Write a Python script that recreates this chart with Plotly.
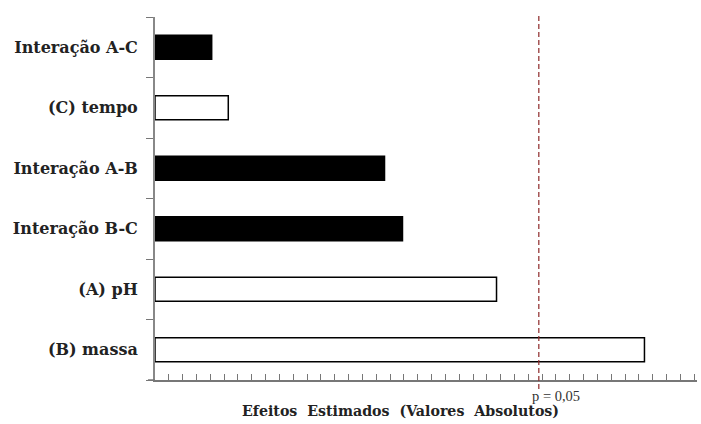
import plotly.graph_objects as go

# Pareto chart of estimated effects (absolute values), bottom to top
efeitos = ["(B) massa", "(A) pH", "Interação B-C", "Interação A-B", "(C) tempo", "Interação A-C"]
valores = [3.54, 2.47, 1.79, 1.66, 0.53, 0.41]
interacao = [False, False, True, True, False, True]
limite_p = 2.776  # critical value for p = 0,05

cores = ["black" if i else "white" for i in interacao]

fig = go.Figure()
fig.add_trace(go.Bar(
    x=valores, y=efeitos, orientation="h",
    marker=dict(color=cores, line=dict(color="black", width=1.5)),
    width=0.4, showlegend=False, hoverinfo="x+y",
))

# Significance threshold
fig.add_shape(type="line", xref="x", yref="paper",
              x0=limite_p, x1=limite_p, y0=-0.025, y1=1.005,
              line=dict(color="#8e2a2a", width=1.2, dash="5px,3px"))
fig.add_annotation(x=limite_p, xref="x", y=-0.045, yref="paper",
                   text="p = 0,05", showarrow=False, xanchor="left", yanchor="middle",
                   xshift=-9, font=dict(family="Liberation Serif", size=14.5, color="#333"))

# Short extension of the baseline to the left of the vertical axis
fig.add_shape(type="line", xref="paper", yref="paper",
              x0=-0.013, x1=0, y0=0, y1=0,
              line=dict(color="#777", width=1.5))

# Axis title
fig.add_annotation(x=(400 - 155) / 542, xref="paper", y=-0.085, yref="paper",
                   text="<b>Efeitos  Estimados  (Valores  Absolutos)</b>",
                   showarrow=False, xanchor="center", yanchor="middle",
                   font=dict(family="DejaVu Serif", size=14.2, color="#222"))

fig.update_layout(
    width=701, height=424,
    margin=dict(l=155, r=4, t=17, b=44),
    paper_bgcolor="white", plot_bgcolor="white",
    font=dict(family="DejaVu Serif", color="#222"),
)
fig.update_xaxes(
    range=[0, 3.92], dtick=0.1, tick0=0, showticklabels=False,
    ticks="inside", ticklen=6, tickwidth=1, tickcolor="#777",
    showline=True, linecolor="#777", linewidth=1.5,
    showgrid=False, zeroline=False, fixedrange=True,
)
fig.update_yaxes(
    categoryorder="array", categoryarray=efeitos,
    range=[-0.5, 5.5], tickson="boundaries",
    ticks="outside", ticklen=7, tickwidth=1, tickcolor="#777",
    showline=True, linecolor="#888", linewidth=2,
    showgrid=False, zeroline=False, ticklabelstandoff=12,
    tickfont=dict(family="DejaVu Serif", size=16, color="#222"),
    tickprefix="<b>", ticksuffix="</b>",
)

fig.write_html("out.html")
